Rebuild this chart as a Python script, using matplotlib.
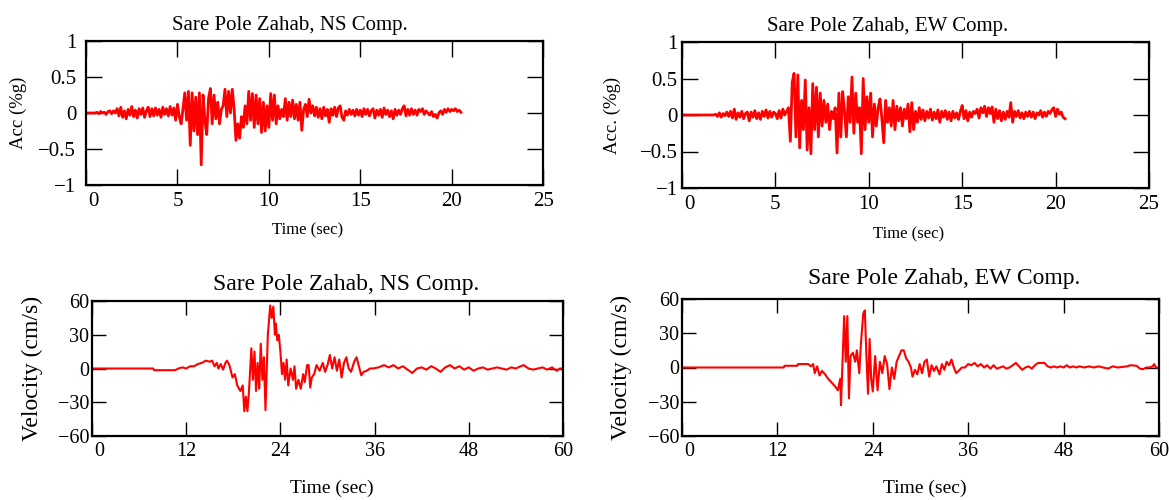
import matplotlib
matplotlib.use("Agg")
import matplotlib.pyplot as plt
import matplotlib.transforms as mtransforms
import numpy as np
from matplotlib.ticker import FuncFormatter

plt.rcParams["font.family"] = ["Liberation Serif", "DejaVu Serif"]

STATION = "Sare Pole Zahab"
RED = "#ff0000"

# acceleration records, sampled every 0.1 s (values in %g)
acc_dt = 0.1
acc_ns = [
    0.0, 0.0, 0.0, 0.0, 0.0, 0.0,
    0.01, -0.01, 0.02, 0.0, 0.01, -0.02, 0.02, 0.03, -0.01, 0.03, 0.0,
    0.06, -0.04, 0.08, -0.06, 0.03, -0.08, 0.05, -0.03, 0.09, -0.05,
    0.04, -0.07, 0.06, -0.02, 0.07, -0.06, 0.03, 0.08, -0.05, 0.06,
    -0.04, 0.07, -0.03, 0.05, -0.06, 0.08, -0.02, 0.06, -0.04, 0.09,
    -0.03, 0.07, -0.1, 0.12,
    -0.05, -0.15, 0.05, 0.28, -0.1, 0.3, -0.45, 0.28, -0.25, 0.22,
    -0.3, 0.28, -0.72, 0.25, -0.1, -0.3, 0.2, 0.34, -0.15, 0.25,
    -0.08, 0.15, -0.15, 0.05, 0.1, 0.33, -0.05, 0.3, 0.0, 0.33,
    0.05, -0.38, -0.15, -0.35, -0.05, -0.2, 0.1, -0.15, 0.3, -0.1,
    0.27, -0.2, 0.25, -0.15, 0.2, -0.27, 0.15, -0.25, 0.1, -0.2,
    0.27, -0.1, 0.25, -0.15, 0.1, -0.08, 0.05, -0.05, 0.2, -0.1,
    0.15, -0.05, 0.18, -0.08, 0.12, -0.1, 0.15, -0.24, 0.05, 0.12,
    -0.05, 0.19, 0.0, 0.1, -0.04, 0.08, -0.06, 0.06, -0.08, 0.08,
    -0.04, 0.05, -0.13, 0.06, -0.03, 0.08, -0.05, 0.07, 0.1, -0.06,
    -0.1, 0.03, -0.03, 0.05, -0.02, 0.04, -0.04, 0.05, -0.03, 0.04,
    -0.05, 0.06, -0.02, 0.05, -0.04, 0.03, 0.06, -0.07, 0.04, -0.03,
    0.05, -0.06, 0.07, -0.02, 0.04, -0.05, 0.03, -0.08, 0.05, -0.03,
    0.04, -0.02, 0.06, 0.1, -0.04, 0.05, -0.03, 0.06, -0.02, 0.04,
    -0.03, 0.05, 0.02, 0.06, -0.02, 0.03, 0.0, -0.03, 0.02, -0.05,
    -0.02, -0.07, 0.0, 0.03, -0.02, 0.05, 0.01, 0.06, 0.02, 0.05,
    0.03, 0.06, 0.02, 0.04, 0.01,
]
acc_ew = [
    0.0, 0.0, 0.0, 0.0, 0.0, 0.0, 0.0, 0.0, 0.0,
    0.0, 0.0, 0.0, 0.0, 0.0, 0.0, 0.0, 0.0, 0.0,
    0.01, -0.02, 0.03, -0.03, 0.02, -0.01, 0.04, -0.02,
    0.05, -0.04, 0.08, -0.06, 0.03, -0.03, 0.05, -0.05, 0.02, 0.04,
    -0.08, 0.04, -0.03, 0.06, -0.05, 0.03, -0.06, 0.05, -0.02, 0.07,
    -0.04, 0.05, -0.03, 0.04, 0.02, -0.05, 0.06, -0.04, 0.08, 0.0,
    0.05, 0.1, -0.36, 0.45, 0.57, -0.3, 0.55, -0.45, 0.2, -0.2,
    0.48, -0.48, 0.1, -0.53, 0.43, -0.2, 0.38, -0.3, 0.3, -0.15,
    0.2, -0.1, 0.15, -0.2, 0.05, -0.05, 0.1, -0.52, 0.3, -0.3,
    0.32, 0.05, -0.3, 0.25, -0.1, 0.52, -0.25, 0.3, -0.1, 0.1,
    -0.53, 0.5, -0.2, 0.25, -0.1, 0.3, -0.3, 0.15, -0.15, 0.1,
    0.22, -0.05, -0.38, 0.2, -0.1, 0.1, -0.15, 0.2, -0.2, 0.12,
    -0.08, 0.1, -0.15, 0.08, -0.05, 0.15, -0.23, 0.17, -0.2, 0.05,
    -0.1, 0.1, -0.06, 0.07, -0.08, 0.05, -0.04, 0.08, -0.07, 0.04,
    -0.05, 0.07, -0.1, 0.05, -0.03, 0.06, -0.06, 0.04, -0.08, 0.05,
    -0.04, 0.03, -0.06, 0.05, 0.13, -0.05, 0.06, -0.08, 0.04, -0.03,
    0.05, 0.02, 0.08, -0.04, 0.1, 0.03, 0.12, -0.02, 0.1, 0.02,
    0.11, -0.1, 0.08, -0.05, 0.06, -0.08, 0.04, -0.06, 0.05, -0.03,
    0.17, -0.1, 0.05, -0.02, 0.06, -0.04, 0.03, -0.05, 0.04, -0.02,
    0.05, -0.03, 0.04, -0.05, 0.03, 0.0, 0.06, -0.03, 0.04, -0.02,
    0.05, 0.02, 0.07, 0.1, -0.02, 0.08, 0.01, 0.04, -0.03, -0.05,
]

# velocity records (time in s, velocity in cm/s)
vel_ns_t = [
    0.0, 7.8, 7.9, 10.6, 11.0, 11.5, 12.0, 12.5, 13.0, 13.5, 14.0, 14.5, 15.0, 15.3,
    15.6, 15.9, 16.1, 16.4, 16.7, 17.0, 17.2, 17.5, 17.9, 18.2, 18.5, 18.9, 19.2,
    19.4, 19.6, 19.8, 20.0, 20.3, 20.5, 20.7, 20.9, 21.1, 21.3, 21.5, 21.7, 21.9,
    22.1, 22.4, 22.7, 22.9, 23.1, 23.3, 23.4, 23.6, 23.8, 24.0, 24.2, 24.4, 24.6,
    24.8, 25.0, 25.3, 25.6, 25.8, 26.0, 26.3, 26.6, 26.9, 27.1, 27.4, 27.6, 27.8,
    28.0, 28.3, 28.6, 29.0, 29.4, 29.7, 30.0, 30.3, 30.6, 30.9, 31.2, 31.5, 31.8,
    32.1, 32.4, 32.7, 33.0, 33.4, 33.7, 34.0, 34.3, 34.6, 35.0, 35.4, 35.8, 36.5,
    37.2, 37.8, 38.4, 39.0, 39.6, 40.2, 40.8, 41.4, 42.0, 42.6, 43.2, 43.8, 44.4,
    45.0, 45.6, 46.2, 46.8, 47.4, 48.0, 48.6, 49.2, 49.8, 50.4, 51.0, 51.6, 52.2,
    52.8, 53.4, 54.0, 54.6, 55.0, 55.6, 56.2, 56.8, 57.4, 58.0, 58.6, 59.2, 59.6, 60.0,
]
vel_ns = [
    0.0, 0.0, -1.5, -1.5, 0.0, 1.0, 0.0, 2.0, 2.0, 4.0, 5.0, 7.0, 6.0, 7.0,
    2.0, 5.0, 0.0, 4.0, -1.0, 5.0, 7.0, 3.0, -8.0, -5.0, -15.0, -20.0, -15.0,
    -38.0, -25.0, -38.0, -20.0, 18.0, -10.0, 15.0, -20.0, 5.0, -18.0, 22.0, -10.0, 10.0,
    -37.0, 30.0, 56.0, 45.0, 55.0, 30.0, 40.0, 25.0, 30.0, 15.0, -5.0, 5.0, -10.0,
    8.0, -15.0, 0.0, -10.0, 2.0, -18.0, -10.0, -18.0, -5.0, -12.0, 3.0, 3.0, -17.0,
    -8.0, -5.0, 3.0, -2.0, 5.0, -3.0, 3.0, 12.0, 0.0, 10.0, -2.0, 8.0, -8.0,
    5.0, 10.0, 0.0, -3.0, 6.0, 10.0, 2.0, -6.0, -3.0, -2.0, 0.0, 0.0, 1.0,
    3.0, 1.0, 3.0, 0.0, 2.0, -1.0, -4.0, 0.0, 1.0, -1.0, 2.0, 0.0, -3.0,
    1.0, 3.0, 0.0, 2.0, -1.0, 1.0, -2.0, 0.0, 1.0, -1.0, 0.0, 1.0, 0.0,
    -1.0, 1.0, 0.0, 2.0, 3.0, 0.0, -1.0, 0.0, 1.0, -1.0, 1.0, -2.0, 0.0, 0.0,
]
vel_ew_t = [
    0.0, 12.8, 12.9, 14.5, 14.6, 15.9, 16.2, 16.5, 16.7, 17.0, 17.3, 17.6, 18.0,
    18.4, 18.8, 19.2, 19.6, 19.9, 20.0, 20.4, 20.6, 20.8, 21.0, 21.2, 21.5, 21.8,
    22.0, 22.3, 22.5, 22.8, 23.0, 23.2, 23.4, 23.6, 23.8, 24.0, 24.3, 24.6, 24.9,
    25.2, 25.5, 25.8, 26.1, 26.4, 26.7, 27.0, 27.3, 27.6, 27.9, 28.2, 28.5, 28.8,
    29.0, 29.3, 29.6, 29.9, 30.2, 30.5, 30.8, 31.1, 31.4, 31.7, 32.0, 32.4, 32.7,
    33.0, 33.3, 33.6, 33.9, 34.2, 34.5, 34.8, 35.2, 35.6, 36.0, 36.4, 36.8, 37.2,
    37.6, 38.0, 38.4, 38.8, 39.2, 39.6, 40.0, 40.4, 40.8, 41.2, 41.6, 42.0, 42.4,
    42.8, 43.2, 43.6, 44.0, 44.4, 44.8, 45.2, 45.6, 46.0, 46.4, 46.8, 47.2, 47.6,
    48.0, 48.4, 48.8, 49.2, 49.6, 50.0, 50.6, 51.2, 51.8, 52.4, 53.0, 53.6, 54.2,
    54.8, 55.4, 56.0, 56.4, 57.2, 57.6, 58.0, 58.4, 58.8, 59.2, 59.4, 59.6, 60.0,
]
vel_ew = [
    0.0, 0.0, 1.5, 1.5, 3.0, 3.0, 1.0, 3.0, -5.0, 1.0, -7.0, -3.0, -6.0,
    -10.0, -13.0, -16.0, -20.0, -10.0, -33.0, 45.0, 5.0, 45.0, -27.0, 10.0, 13.0, 5.0,
    15.0, -5.0, 20.0, 47.0, 50.0, 10.0, -23.0, 25.0, -10.0, -21.0, 10.0, -20.0, 5.0,
    -5.0, 10.0, 3.0, -19.0, 0.0, -10.0, 5.0, 10.0, 15.0, 15.0, 8.0, 5.0, 0.0,
    -8.0, -2.0, -6.0, 3.0, -5.0, 5.0, 7.0, -8.0, 2.0, -3.0, 1.0, -6.0, 3.0,
    -2.0, 5.0, 2.0, 7.0, 0.0, -5.0, -3.0, 0.0, 0.0, 3.0, 2.0, 4.0, 1.0,
    3.0, 0.0, 2.0, -1.0, 2.0, -1.0, 0.0, 1.0, -1.0, 0.0, 2.0, 4.0, 1.0,
    -2.0, 0.0, 1.0, -1.0, 2.0, 4.0, 4.0, 4.0, 1.0, 0.0, 1.0, 0.0, 1.0,
    0.0, 2.0, 0.0, 1.0, 0.0, 1.0, 0.0, 1.0, 0.0, 1.0, 0.0, -1.0, 1.0,
    0.0, 0.5, 1.0, 2.0, 1.5, -1.0, -1.5, 0.0, 0.0, 1.0, 3.0, 0.0, 0.0,
]

acc_xticks = [0, 5, 10, 15, 20, 25]
acc_yticks = [-1, -0.5, 0, 0.5, 1]
vel_xticks = [0, 12, 24, 36, 48, 60]
vel_yticks = [-60, -30, 0, 30, 60]


def tick_fmt(v, _pos):
    return f"{v:g}".replace("-", "\u2212")


def style_axes(ax, tick_len, tick_size, ypad, xpad):
    for spine in ax.spines.values():
        spine.set_linewidth(1.6)
    ax.tick_params(which="both", direction="in", top=True, right=True,
                   length=tick_len, width=1.0, labelsize=tick_size)
    ax.tick_params(axis="y", pad=ypad)
    ax.tick_params(axis="x", pad=xpad)
    ax.xaxis.set_major_formatter(FuncFormatter(tick_fmt))
    ax.yaxis.set_major_formatter(FuncFormatter(tick_fmt))


def nudge_first_xlabel(fig, ax, dx_pt):
    # the "0" under the y axis sits a little to the right in the original
    fig.canvas.draw()
    lab = ax.get_xticklabels()[0]
    off = mtransforms.ScaledTranslation(dx_pt / 72, 0, fig.dpi_scale_trans)
    lab.set_transform(lab.get_transform() + off)


fig = plt.figure(figsize=(11.69, 5.0), dpi=100)

# top row: acceleration
ax1 = fig.add_axes([0.0736, 0.630, 0.391, 0.288])
ax2 = fig.add_axes([0.5834, 0.624, 0.3995, 0.292])
# bottom row: velocity
ax3 = fig.add_axes([0.0787, 0.128, 0.4029, 0.270])
ax4 = fig.add_axes([0.5834, 0.128, 0.408, 0.274])

t_ns = np.arange(len(acc_ns)) * acc_dt
t_ew = np.arange(len(acc_ew)) * acc_dt
ax1.plot(t_ns, acc_ns, color=RED, linewidth=2.0)
ax2.plot(t_ew, acc_ew, color=RED, linewidth=2.0)
ax3.plot(vel_ns_t, vel_ns, color=RED, linewidth=1.5)
ax4.plot(vel_ew_t, vel_ew, color=RED, linewidth=1.5)

for ax, comp, ylab, xf, yx, ypad in [(ax1, "NS", "Acc (%g)", 0.446, -0.13, 7),
                                     (ax2, "EW", "Acc. (%g)", 0.441, -0.13, 3)]:
    ax.set_xlim(0, 25)
    ax.set_ylim(-1, 1)
    ax.set_xticks(acc_xticks)
    ax.set_yticks(acc_yticks)
    style_axes(ax, 11.5, 15, ypad, 5)
    ax.set_title(f"{STATION}, {comp} Comp.", fontsize=15, x=xf, pad=8)
    ax.set_xlabel("Time (sec)", fontsize=12)
    ax.set_ylabel(ylab, fontsize=13.5)
    ax.xaxis.set_label_coords(0.485, -0.26)
    ax.yaxis.set_label_coords(yx, 0.5)

for ax, comp, xf, pad in [(ax3, "NS", 0.54, 8), (ax4, "EW", 0.55, 11)]:
    ax.set_xlim(0, 60)
    ax.set_ylim(-60, 60)
    ax.set_xticks(vel_xticks)
    ax.set_yticks(vel_yticks)
    style_axes(ax, 10, 14.5, 2, 4)
    ax.set_title(f"{STATION}, {comp} Comp.", fontsize=17, x=xf, pad=pad)
    ax.set_xlabel("Time (sec)", fontsize=14)
    ax.set_ylabel("Velocity (cm/s)", fontsize=17)
    ax.xaxis.set_label_coords(0.51, -0.32)
    ax.yaxis.set_label_coords(-0.105, 0.5)

for ax in (ax1, ax2, ax3, ax4):
    nudge_first_xlabel(fig, ax, 5)

fig.savefig("out.png", dpi=100)
plt.close(fig)
